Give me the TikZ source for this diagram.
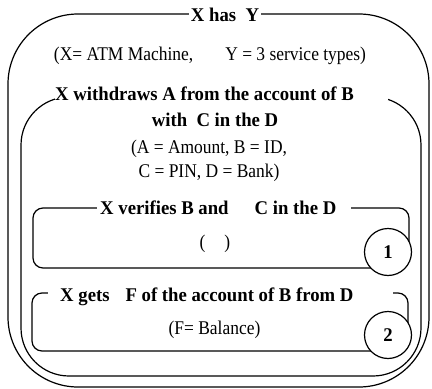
\documentclass[tikz,border=0pt]{standalone}
\usepackage{fontspec}
\setmainfont{Liberation Serif}[FakeStretch=0.90, BoldFeatures={FakeStretch=0.965}]

% blank room that keeps a title's white backing wider than its words
\newcommand{\padding}[1]{\rule{#1}{0pt}}

\begin{document}
\begin{tikzpicture}[x=1pt, y=-1pt,
  every node/.style={font=\fontsize{19.4}{24}\selectfont, inner sep=0pt},
  title/.style={fill=white, font=\fontsize{19.4}{24}\selectfont\bfseries},
  frame/.style={draw, line width=1.2pt},
  badge/.style={draw, line width=1.2pt, circle, fill=white, minimum size=47pt,
    font=\fontsize{19.4}{24}\selectfont\bfseries}]
\useasboundingbox (0,0) rectangle (432,389);

% outer frame: X has Y
\draw[frame, rounded corners=70pt] (8,14) rectangle (429,387);
\node[title, anchor=base, inner xsep=1.5pt] (has) at (225,21) {X has\ \ Y};
\node[anchor=base] (atm) at (210,60) {(X= ATM Machine,\hspace{32pt}Y = 3 service types)};

% withdrawal frame
\draw[frame, rounded corners=48pt] (21,97) rectangle (421,376);
\node[title, anchor=base west] (withdraw) at (55,100) {X withdraws A from the account of B\padding{34pt}};
\node[anchor=base, font=\fontsize{19.4}{24}\selectfont\bfseries] (with) at (215,126) {with\ \ C in the D};
\node[anchor=north, align=center] (abcd) at (209,140) {(A = Amount, B = ID,\\ C = PIN, D = Bank)};

% service 1: verification
\draw[frame, rounded corners=10pt] (33,208) rectangle (409,268);
\node[title, anchor=base west, inner xsep=3pt] (verify) at (97,214) {X verifies B and\hspace{26pt}C in the D\padding{12pt}};
\node[anchor=base] (empty) at (215,248) {(\hspace{19pt})};
\node[badge] (one) at (388,252) {1};

% service 2: balance
\draw[frame, rounded corners=10pt] (32,293) rectangle (408,351);
\node[title, anchor=base west] (gets) at (48,301) {\padding{12pt}X gets\hspace{16pt}F of the account of B from D\padding{40pt}};
\node[anchor=base] (bal) at (214.5,334) {(F= Balance)};
\node[badge] (two) at (388,335) {2};
\end{tikzpicture}
\end{document}
